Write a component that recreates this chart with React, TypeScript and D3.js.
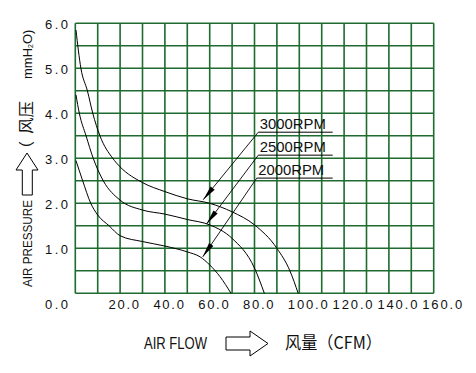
import * as d3 from "d3";

const WIDTH = 476;
const HEIGHT = 373;

// axes
const flowTicks = [20, 40, 60, 80, 100, 120, 140, 160];
const pressureTicks = [1, 2, 3, 4, 5, 6];
const flowGrid = d3.range(0, 161, 10);
const pressureGrid = d3.range(0, 6.01, 0.5);

// curves: [CFM, mmH2O]
const rpm3000: [number, number][] = [
  [0.3, 5.85], [2.5, 5.0], [5.4, 4.5], [7.8, 4.0], [11, 3.5], [16.7, 3.0],
  [20, 2.81], [30, 2.46], [40, 2.26], [50, 2.1], [60, 2.0], [70, 1.81],
  [80, 1.52], [90, 1.0], [95.8, 0.5], [99.5, 0],
];
const rpm2500: [number, number][] = [
  [0.3, 4.41], [1.8, 4.0], [4.8, 3.5], [8, 3.0], [12.5, 2.5], [20, 2.07],
  [30, 1.85], [40, 1.76], [50, 1.64], [60, 1.52], [70, 1.22], [80, 0.56],
  [84.4, 0],
];
const rpm2000: [number, number][] = [
  [0.3, 2.95], [3.3, 2.5], [6.9, 2.0], [10, 1.74], [15.1, 1.5], [20, 1.28],
  [30, 1.15], [40, 1.05], [50, 0.92], [55.7, 0.81], [60, 0.63], [64.6, 0.37],
  [69.5, 0],
];

// callouts
const rpmLabels = ["3000RPM", "2500RPM", "2000RPM"];
const labelPressure = [3.58, 3.07, 2.56];
const labelFlowStart = [81.7, 81.7, 81.0];
const labelFlowEnd = 114.9;
const tipFlow = [57.1, 58.6, 56.9];
const tipPressure = [2.08, 1.54, 0.81];

const GRID = "#1f6b30";
const NUM_FONT = "'Liberation Sans', Arial, sans-serif";
const CJK_FONT = "'Noto Sans CJK SC', sans-serif";

const x = d3.scaleLinear().domain([0, 160]).range([75.3, 433.7]);
const y = d3.scaleLinear().domain([0, 6]).range([293.3, 23.3]);

const curve = d3
  .line<[number, number]>()
  .x((d) => x(d[0]))
  .y((d) => y(d[1]))
  .curve(d3.curveMonotoneX);

function arrowHead(fx: number, fy: number, tx: number, ty: number) {
  const len = Math.hypot(tx - fx, ty - fy);
  const ux = (tx - fx) / len;
  const uy = (ty - fy) / len;
  const L = 15;
  const hw = 2.6;
  const bx = tx - ux * L;
  const by = ty - uy * L;
  return `M${tx},${ty}L${bx - uy * hw},${by + ux * hw}L${bx + uy * hw},${by - ux * hw}Z`;
}

export default function App() {
  return (
    <svg
      width={WIDTH}
      height={HEIGHT}
      style={{ position: "absolute", left: 0, top: 0, background: "#fff" }}
    >
      <rect width={WIDTH} height={HEIGHT} fill="#fff" />

      {/* grid */}
      <g stroke={GRID} strokeWidth={1.6}>
        {flowGrid.map((v) => (
          <line key={`v${v}`} x1={x(v)} x2={x(v)} y1={y(0)} y2={y(6)} />
        ))}
        {pressureGrid.map((p) => (
          <line key={`h${p}`} x1={x(0)} x2={x(160)} y1={y(p)} y2={y(p)} />
        ))}
      </g>

      {/* tick labels */}
      <g fontFamily={NUM_FONT} fontSize={13} fill="#111">
        {pressureTicks.map((p) => (
          <text key={p} x={45} y={y(p) + 6} textLength={23} lengthAdjust="spacing">
            {p.toFixed(1)}
          </text>
        ))}
        <text x={45} y={309.3} textLength={23} lengthAdjust="spacing">
          0.0
        </text>
        {flowTicks.map((v) => (
          <text
            key={v}
            x={x(v) - 11.5}
            y={309.3}
            textLength={v >= 100 ? 40 : 30.5}
            lengthAdjust="spacing"
          >
            {v.toFixed(1)}
          </text>
        ))}
      </g>

      {/* curves */}
      <g fill="none" stroke="#000" strokeWidth={1}>
        <path d={curve(rpm3000) ?? ""} />
        <path d={curve(rpm2500) ?? ""} />
        <path d={curve(rpm2000) ?? ""} />
      </g>

      {/* callouts */}
      {rpmLabels.map((label, i) => {
        const sx = x(labelFlowStart[i]);
        const sy = y(labelPressure[i]);
        const tx = x(tipFlow[i]);
        const ty = y(tipPressure[i]);
        return (
          <g key={label}>
            <line x1={sx} y1={sy} x2={x(labelFlowEnd)} y2={sy} stroke="#000" strokeWidth={1} />
            <line x1={sx} y1={sy} x2={tx} y2={ty} stroke="#000" strokeWidth={0.9} />
            <path d={arrowHead(sx, sy, tx, ty)} fill="#000" />
            <text
              x={sx + 1.5}
              y={sy - 3}
              fontFamily={NUM_FONT}
              fontSize={14}
              textLength={66}
              lengthAdjust="spacingAndGlyphs"
              fill="#111"
            >
              {label}
            </text>
          </g>
        );
      })}

      {/* y axis title */}
      <g fill="#111">
        <text
          transform="translate(32,287) rotate(-90)"
          fontFamily={NUM_FONT}
          fontSize={13}
          textLength={87}
          lengthAdjust="spacingAndGlyphs"
        >
          AIR PRESSURE
        </text>
        <path
          d="M27,153 L38,170 L32.3,170 L32.3,195 L22.3,195 L22.3,170 L16,170 Z"
          fill="#fff"
          stroke="#000"
          strokeWidth={1}
        />
        <text transform="translate(32,157) rotate(-90)" fontFamily={CJK_FONT} fontSize={16}>
          （
        </text>
        <text
          transform="translate(32,134) rotate(-90)"
          fontFamily={CJK_FONT}
          fontSize={16}
          textLength={33}
          lengthAdjust="spacingAndGlyphs"
        >
          风压
        </text>
        <text transform="translate(32,79) rotate(-90)" fontFamily={NUM_FONT} fontSize={13}>
          mmH
          <tspan fontSize={7} dy={1}>
            2
          </tspan>
          <tspan dy={-1}>O)</tspan>
        </text>
      </g>

      {/* x axis title */}
      <g fill="#111">
        <text
          x={144}
          y={349.3}
          fontFamily={NUM_FONT}
          fontSize={16}
          textLength={63}
          lengthAdjust="spacingAndGlyphs"
        >
          AIR FLOW
        </text>
        <path
          d="M226,337 L250,337 L250,331 L268,343.5 L250,356 L250,350 L226,350 Z"
          fill="#fff"
          stroke="#000"
          strokeWidth={1}
        />
        <text
          x={285}
          y={349}
          fontFamily={CJK_FONT}
          fontSize={17}
          textLength={97}
          lengthAdjust="spacingAndGlyphs"
        >
          风量（CFM）
        </text>
      </g>
    </svg>
  );
}
